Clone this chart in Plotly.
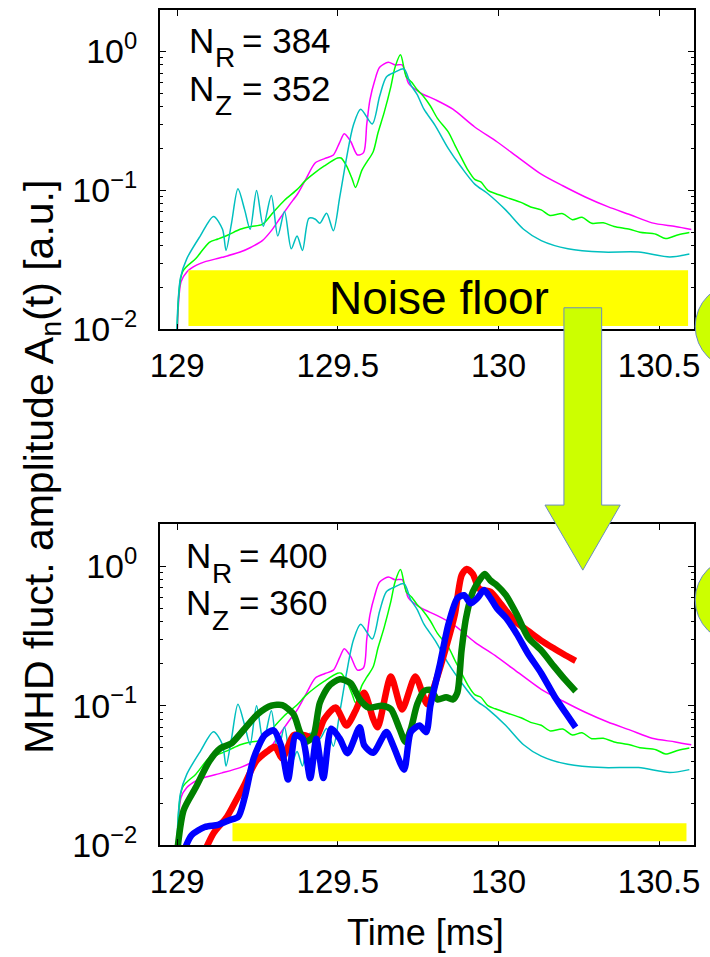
import plotly.graph_objects as go

# ---------------- data ----------------
t_mag = [129.0, 129.012, 129.03, 129.06, 129.085, 129.14, 129.196, 129.23, 129.265, 129.295,
         129.32, 129.35, 129.375, 129.40, 129.43, 129.46, 129.486, 129.505, 129.52, 129.54,
         129.561, 129.58, 129.59, 129.60, 129.615, 129.63, 129.657, 129.678, 129.70, 129.71,
         129.72, 129.76, 129.803, 129.858, 129.926, 129.995, 130.064, 130.133, 130.20, 130.27,
         130.34, 130.41, 130.478, 130.55, 130.60]
a_mag = [0.009, 0.022, 0.0259, 0.029, 0.0306, 0.033, 0.036, 0.039, 0.0435, 0.052,
         0.063, 0.079, 0.0946, 0.12, 0.158, 0.17, 0.18, 0.22, 0.256, 0.225,
         0.18, 0.187, 0.30, 0.45, 0.62, 0.77, 0.836, 0.80, 0.80, 0.70,
         0.59, 0.50, 0.45, 0.384, 0.286, 0.224, 0.171, 0.131, 0.108, 0.0897,
         0.0764, 0.0668, 0.0584, 0.055, 0.0524]

t_grn = [129.0, 129.017, 129.058, 129.10, 129.127, 129.16, 129.196, 129.23, 129.265, 129.30,
         129.334, 129.37, 129.403, 129.43, 129.458, 129.499, 129.51, 129.527, 129.545, 129.555,
         129.575, 129.59, 129.61, 129.625, 129.644, 129.665, 129.678, 129.695, 129.713, 129.73,
         129.747, 129.765, 129.788, 129.81, 129.844, 129.865, 129.885, 129.905, 129.926, 129.945,
         129.967, 129.99, 130.037, 130.07, 130.10, 130.133, 130.16, 130.20, 130.23, 130.26,
         130.29, 130.326, 130.36, 130.408, 130.44, 130.49, 130.52, 130.56, 130.594]
a_grn = [0.009, 0.026, 0.0323, 0.0423, 0.0447, 0.048, 0.0525, 0.055, 0.0569, 0.07,
         0.085, 0.10, 0.12, 0.135, 0.150, 0.171, 0.171, 0.15, 0.12, 0.105,
         0.14, 0.16, 0.19, 0.26, 0.363, 0.559, 0.77, 0.946, 0.656, 0.60,
         0.53, 0.48, 0.405, 0.33, 0.263, 0.21, 0.171, 0.14, 0.12, 0.115,
         0.10, 0.095, 0.087, 0.082, 0.076, 0.0724, 0.066, 0.068, 0.0616, 0.064,
         0.058, 0.0584, 0.055, 0.0525, 0.05, 0.0484, 0.045, 0.048, 0.0497]

t_cyn = [128.998, 129.01, 129.03, 129.072, 129.113, 129.141, 129.152, 129.169, 129.189, 129.21,
         129.227, 129.247, 129.268, 129.293, 129.313, 129.334, 129.355, 129.373, 129.39, 129.41,
         129.43, 129.444, 129.465, 129.486, 129.506, 129.527, 129.548, 129.571, 129.607, 129.63,
         129.651, 129.678, 129.706, 129.727, 129.747, 129.768, 129.803, 129.844, 129.885, 129.926,
         129.967, 130.022, 130.078, 130.133, 130.216, 130.326, 130.436, 130.533, 130.594]
a_cyn = [0.009, 0.0234, 0.0323, 0.0471, 0.065, 0.0525, 0.037, 0.058, 0.1026, 0.0724,
         0.0525, 0.10, 0.0553, 0.092, 0.047, 0.0705, 0.038, 0.047, 0.037, 0.063,
         0.062, 0.058, 0.0686, 0.0513, 0.0897, 0.171, 0.293, 0.384, 0.301, 0.476,
         0.656, 0.711, 0.75, 0.575, 0.489, 0.384, 0.293, 0.20, 0.146, 0.111,
         0.0946, 0.0724, 0.0525, 0.0435, 0.038, 0.036, 0.036, 0.0332, 0.0348]

t_red = [129.085, 129.113, 129.155, 129.183, 129.21, 129.245, 129.279, 129.304, 129.327, 129.362,
         129.396, 129.43, 129.458, 129.493, 129.527, 129.555, 129.582, 129.61, 129.624, 129.665,
         129.70, 129.741, 129.778, 129.803, 129.837, 129.864, 129.885, 129.901, 129.92, 129.94,
         129.975, 130.009, 130.05, 130.092, 130.133, 130.174, 130.208, 130.24]
a_red = [0.009, 0.0122, 0.016, 0.0209, 0.0274, 0.0398, 0.0468, 0.0508, 0.042, 0.0614,
         0.0614, 0.058, 0.0804, 0.097, 0.072, 0.092, 0.124, 0.0804, 0.070, 0.162,
         0.094, 0.162, 0.1025, 0.145, 0.263, 0.45, 0.86, 0.957, 0.88, 0.69,
         0.656, 0.53, 0.405, 0.344, 0.293, 0.256, 0.23, 0.21]

t_dgr = [129.0, 129.02, 129.058, 129.10, 129.134, 129.169, 129.21, 129.251, 129.293, 129.327,
         129.362, 129.382, 129.40, 129.423, 129.444, 129.472, 129.506, 129.54, 129.568, 129.596,
         129.637, 129.665, 129.692, 129.71, 129.727, 129.747, 129.768, 129.788, 129.81, 129.837,
         129.858, 129.872, 129.885, 129.899, 129.92, 129.94, 129.957, 129.975, 129.995, 130.023,
         130.057, 130.092, 130.133, 130.174, 130.208, 130.24]
a_dgr = [0.009, 0.0178, 0.026, 0.040, 0.0495, 0.0537, 0.0684, 0.0871, 0.10, 0.101,
         0.087, 0.0647, 0.055, 0.06, 0.105, 0.138, 0.155, 0.145, 0.111, 0.097,
         0.10, 0.0946, 0.0684, 0.055, 0.068, 0.1025, 0.127, 0.13, 0.111, 0.115,
         0.111, 0.124, 0.249, 0.427, 0.656, 0.79, 0.88, 0.79, 0.73, 0.62,
         0.45, 0.309, 0.249, 0.19, 0.153, 0.127]

t_blu = [129.02, 129.045, 129.086, 129.127, 129.162, 129.19, 129.21, 129.238, 129.272, 129.30,
         129.323, 129.345, 129.369, 129.39, 129.414, 129.433, 129.455, 129.479, 129.506, 129.53,
         129.568, 129.582, 129.61, 129.651, 129.672, 129.706, 129.727, 129.754, 129.775, 129.788,
         129.816, 129.844, 129.872, 129.893, 129.913, 129.934, 129.955, 129.975, 129.995, 130.023,
         130.057, 130.092, 130.133, 130.174, 130.208, 130.24]
a_blu = [0.009, 0.0118, 0.0135, 0.014, 0.0151, 0.016, 0.022, 0.042, 0.0614, 0.0665,
         0.052, 0.0296, 0.0614, 0.058, 0.0303, 0.058, 0.0303, 0.0684, 0.058, 0.0457,
         0.070, 0.052, 0.046, 0.0647, 0.052, 0.0348, 0.0647, 0.072, 0.0647, 0.10,
         0.19, 0.383, 0.59, 0.62, 0.543, 0.59, 0.675, 0.59, 0.50, 0.427,
         0.326, 0.236, 0.171, 0.117, 0.0895, 0.070]

# noise floor bands [t0, t1, a_low, a_high]
noise_top = [129.035, 130.59, 0.01055, 0.0266]
noise_bot = [129.172, 130.585, 0.01067, 0.01435]

x_ticks = [129, 129.5, 130, 130.5]
x_tick_text = ["129", "129.5", "130", "130.5"]
y_ticks = [0.01, 0.1, 1]
y_tick_text = ["10<sup>\u22122</sup>", "10<sup>\u22121</sup>", "10<sup>0</sup>"]
y_minor = [k * 10 ** e for e in (-2, -1, 0) for k in range(2, 10)]

FONT = "Liberation Sans"
W, H = 710, 957

fig = go.Figure()

thin = [(t_mag, a_mag, "#ff00ff"), (t_grn, a_grn, "#00ff00"), (t_cyn, a_cyn, "#00bfbf")]
for xa, ya in (("x", "y"), ("x2", "y2")):
    for tt, aa, col in thin:
        fig.add_trace(go.Scatter(x=tt, y=aa, mode="lines", xaxis=xa, yaxis=ya,
                                 line=dict(color=col, width=1.5, shape="spline", smoothing=0.8),
                                 showlegend=False, hoverinfo="skip"))

for tt, aa, col in [(t_red, a_red, "#ff0000"), (t_dgr, a_dgr, "#008000"), (t_blu, a_blu, "#0000ff")]:
    fig.add_trace(go.Scatter(x=tt, y=aa, mode="lines", xaxis="x2", yaxis="y2",
                             line=dict(color=col, width=6.5, shape="spline", smoothing=0.7),
                             showlegend=False, hoverinfo="skip"))

xdom = [153.3 / W, 699.3 / W]
top_dom = [1 - 336 / H, 1 - 10 / H]
bot_dom = [1 - 862.3 / H, 1 - 535 / H]


def xaxis(anchor):
    return dict(domain=xdom, anchor=anchor, range=[128.946, 130.607],
                tickvals=x_ticks, ticktext=x_tick_text, ticks="inside", ticklen=6,
                tickwidth=1.2, tickcolor="black", showline=True, linecolor="black",
                linewidth=1.5, mirror="allticks", showgrid=False, zeroline=False,
                tickfont=dict(family=FONT, size=33, color="black"), ticklabelstandoff=6)


def yaxis(anchor, dom):
    return dict(domain=dom, anchor=anchor, type="log", range=[-2, 0.3],
                tickvals=y_ticks, ticktext=y_tick_text, ticks="inside", ticklen=6,
                tickwidth=1.2, tickcolor="black", showline=True, linecolor="black",
                linewidth=1.5, mirror="allticks", showgrid=False, zeroline=False,
                tickfont=dict(family=FONT, size=34, color="black"), ticklabelstandoff=14,
                minor=dict(tickvals=y_minor, ticks="inside", ticklen=3, tickcolor="black",
                           showgrid=False))


fig.update_layout(
    width=W, height=H, margin=dict(l=0, r=0, t=0, b=0),
    paper_bgcolor="white", plot_bgcolor="white",
    xaxis=xaxis("y"), yaxis=yaxis("x", top_dom),
    xaxis2=xaxis("y2"), yaxis2=yaxis("x2", bot_dom),
    font=dict(family=FONT, color="black"),
)

shapes = []
for (t0, t1, lo, hi), xr, yr in ((noise_top, "x", "y"), (noise_bot, "x2", "y2")):
    shapes.append(dict(type="rect", xref=xr, yref=yr, x0=t0, x1=t1, y0=lo, y1=hi,
                       fillcolor="#ffff00", line=dict(width=0), layer="above"))


def P(px, py):
    return px / W, 1 - py / H


arrow_pts = [(566.7, 314), (605.3, 314), (605.3, 515.3), (624.3, 515.3), (586, 581.7),
             (547.3, 515.3), (566.7, 515.3)]
path = "M " + " L ".join("%.5f,%.5f" % P(px, py) for px, py in arrow_pts) + " Z"
shapes.append(dict(type="path", xref="paper", yref="paper", path=path,
                   fillcolor="#ccff00", line=dict(color="#6a8cc0", width=1), layer="above"))
for cy in (333, 612):
    x0, y0 = P(701, cy - 44)
    x1, y1 = P(790, cy + 44)
    shapes.append(dict(type="circle", xref="paper", yref="paper", x0=x0, x1=x1, y0=y1, y1=y0,
                       fillcolor="#ccff00", line=dict(color="#6a8cc0", width=1), layer="above"))
fig.update_layout(shapes=shapes)

ann = []


def label(px, py, text, size, **kw):
    x, y = P(px, py)
    d = dict(x=x, y=y, xref="paper", yref="paper", text=text, showarrow=False,
             font=dict(family=FONT, size=size, color="black"))
    d.update(kw)
    ann.append(d)


# N_R / N_Z labels, built from main letters + larger, lower subscripts
for (nx, ny, sub, val) in [(181, 41, "R", "= 384"), (181, 90, "Z", "= 352"),
                           (178, 567, "R", "= 400"), (178, 615, "Z", "= 360")]:
    label(nx, ny, "N", 35, xanchor="left", yanchor="middle")
    label(nx + 27, ny + 18, sub, 28, xanchor="left", yanchor="middle")
    label(nx + 54, ny, val, 35, xanchor="left", yanchor="middle")

label(439, 304, "Noise floor", 46, xanchor="center", yanchor="middle")
label(425, 951, "Time [ms]", 36, xanchor="center", yanchor="middle")
label(32, 476, "MHD fluct. amplitude A<sub>n</sub>(t) [a.u.]", 41, xanchor="center",
      yanchor="middle", textangle=-90)
fig.update_layout(annotations=ann)

fig.write_html("out.html")
